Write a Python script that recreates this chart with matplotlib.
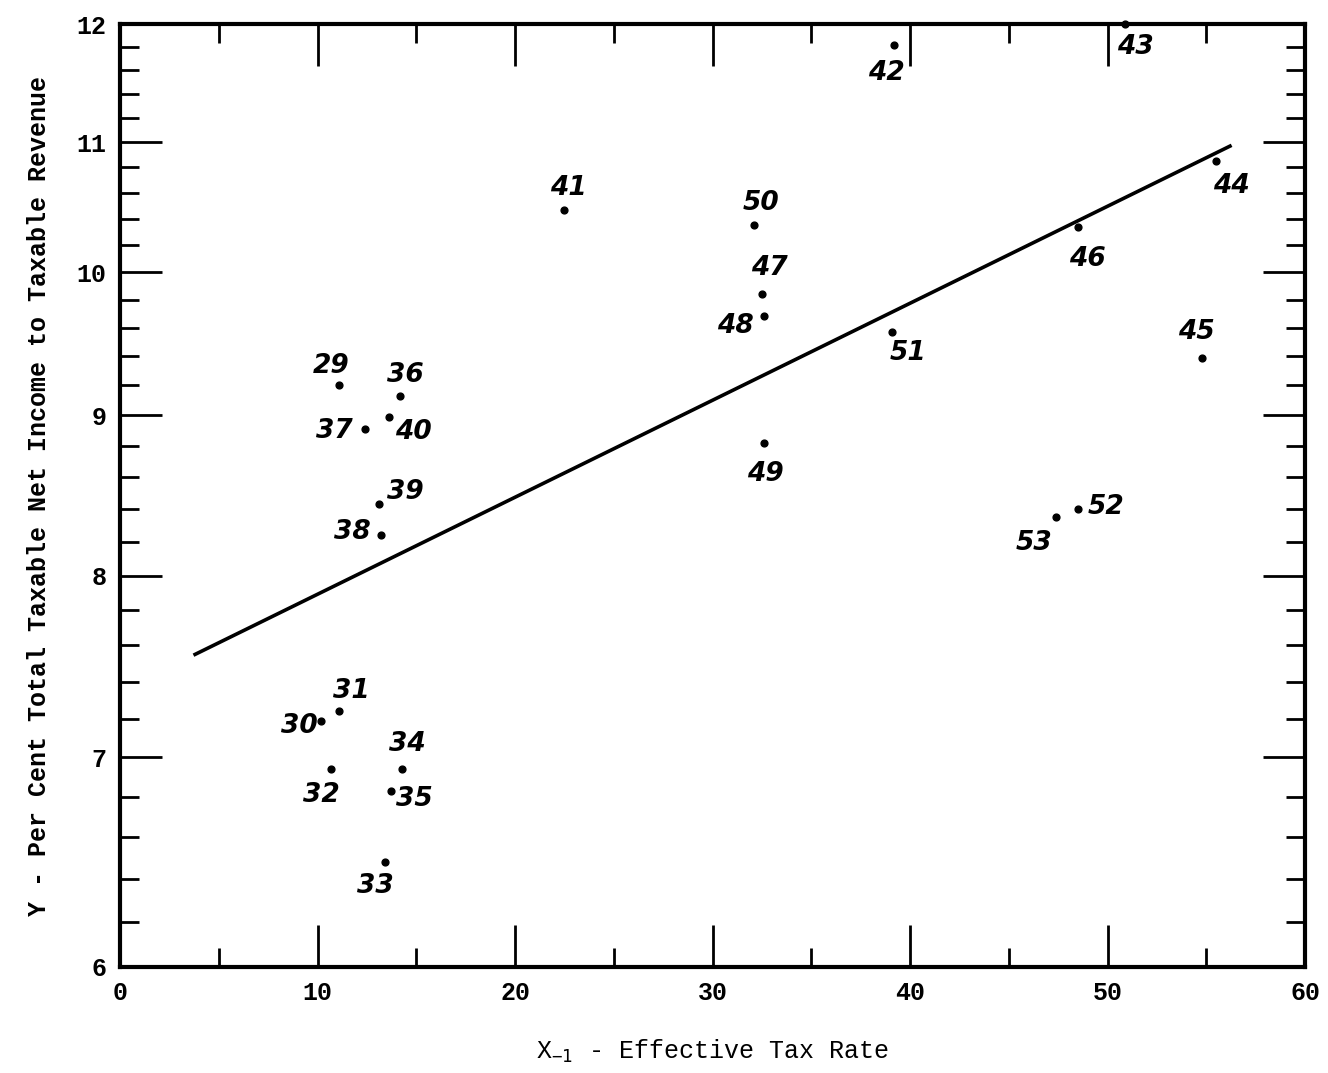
import numpy as np
import matplotlib.pyplot as plt
from matplotlib.ticker import FixedLocator, FixedFormatter, NullFormatter

obs = ['29', '36', '37', '40', '39', '38', '30', '31', '32', '34', '35', '33',
       '41', '50', '47', '48', '49', '51', '42', '43', '44', '46', '45', '52', '53']
tax_rate = [11.1, 14.2, 12.4, 13.6, 13.1, 13.2, 10.2, 11.1, 10.7, 14.3, 13.7, 13.4,
            22.5, 32.1, 32.5, 32.6, 32.6, 39.1, 39.2, 50.9, 55.5, 48.5, 54.8, 48.5, 47.4]
net_income = [9.20, 9.13, 8.91, 8.99, 8.43, 8.24, 7.19, 7.24, 6.94, 6.94, 6.83, 6.48,
              10.47, 10.35, 9.84, 9.68, 8.82, 9.57, 11.82, 12.0, 10.85, 10.34, 9.39, 8.40, 8.35]

# fitted line end points
line_x = [3.8, 56.2]
line_y = [7.55, 10.97]

y_major = [6, 7, 8, 9, 10, 11, 12]
x_major = [0, 10, 20, 30, 40, 50, 60]

# label offsets (pixels) from each dot
offsets = {
    '29': (-8, 19), '36': (5, 21), '37': (-31, -2), '40': (25, -15), '39': (27, 12),
    '38': (-28, 3), '30': (-22, -5), '31': (12, 20), '32': (-10, -26), '34': (5, 25),
    '35': (24, -8), '33': (-9, -24), '41': (4, 22), '50': (7, 22), '47': (7, 26),
    '48': (-28, -10), '49': (2, -31), '51': (16, -21), '42': (-8, -28), '43': (10, -23),
    '44': (15, -25), '46': (10, -32), '45': (-6, 26), '52': (28, 2), '53': (-22, -26),
}

fig = plt.figure(figsize=(13.28, 10.73), dpi=100)
ax = fig.add_axes([0.0904, 0.0988, 0.8923, 0.8788])

ax.set_yscale('log')
ax.set_xlim(0, 60)
ax.set_ylim(6, 12)

ax.plot(line_x, line_y, color='black', lw=2.6)
ax.scatter(tax_rate, net_income, s=24, color='black', zorder=3, clip_on=False)

for name, xv, yv in zip(obs, tax_rate, net_income):
    dx, dy = offsets[name]
    ax.annotate(name, (xv, yv), xytext=(dx, dy), textcoords='offset pixels',
                ha='center', va='center', fontsize=19, style='italic',
                fontweight='bold', family='DejaVu Sans', annotation_clip=False)

# axes frame and ticks
for sp in ax.spines.values():
    sp.set_linewidth(3)

ax.xaxis.set_major_locator(FixedLocator(x_major))
ax.xaxis.set_minor_locator(FixedLocator([5, 15, 25, 35, 45, 55]))
ax.yaxis.set_major_locator(FixedLocator(y_major))
ax.yaxis.set_major_formatter(FixedFormatter([str(v) for v in y_major]))
ax.yaxis.set_minor_locator(FixedLocator(
    [v for v in np.arange(6.2, 12.0, 0.2) if abs(v - round(v)) > 0.05]))
ax.yaxis.set_minor_formatter(NullFormatter())

ax.tick_params(which='both', direction='in', top=True, right=True, color='black')
ax.tick_params(which='major', length=30, width=2, pad=10, labelsize=18,
               labelfontfamily='Liberation Mono')
ax.tick_params(which='minor', length=14, width=2)
for lab in ax.get_xticklabels() + ax.get_yticklabels():
    lab.set_fontweight('bold')

ax.set_xlabel(r'X$_{\mathtt{-1}}$ - Effective Tax Rate', family='Liberation Mono',
              fontsize=18, labelpad=24)
ax.set_ylabel('Y - Per Cent Total Taxable Net Income to Taxable Revenue',
              family='Liberation Mono', fontsize=18, fontweight='bold', labelpad=18)

plt.savefig('out.png', dpi=100)
